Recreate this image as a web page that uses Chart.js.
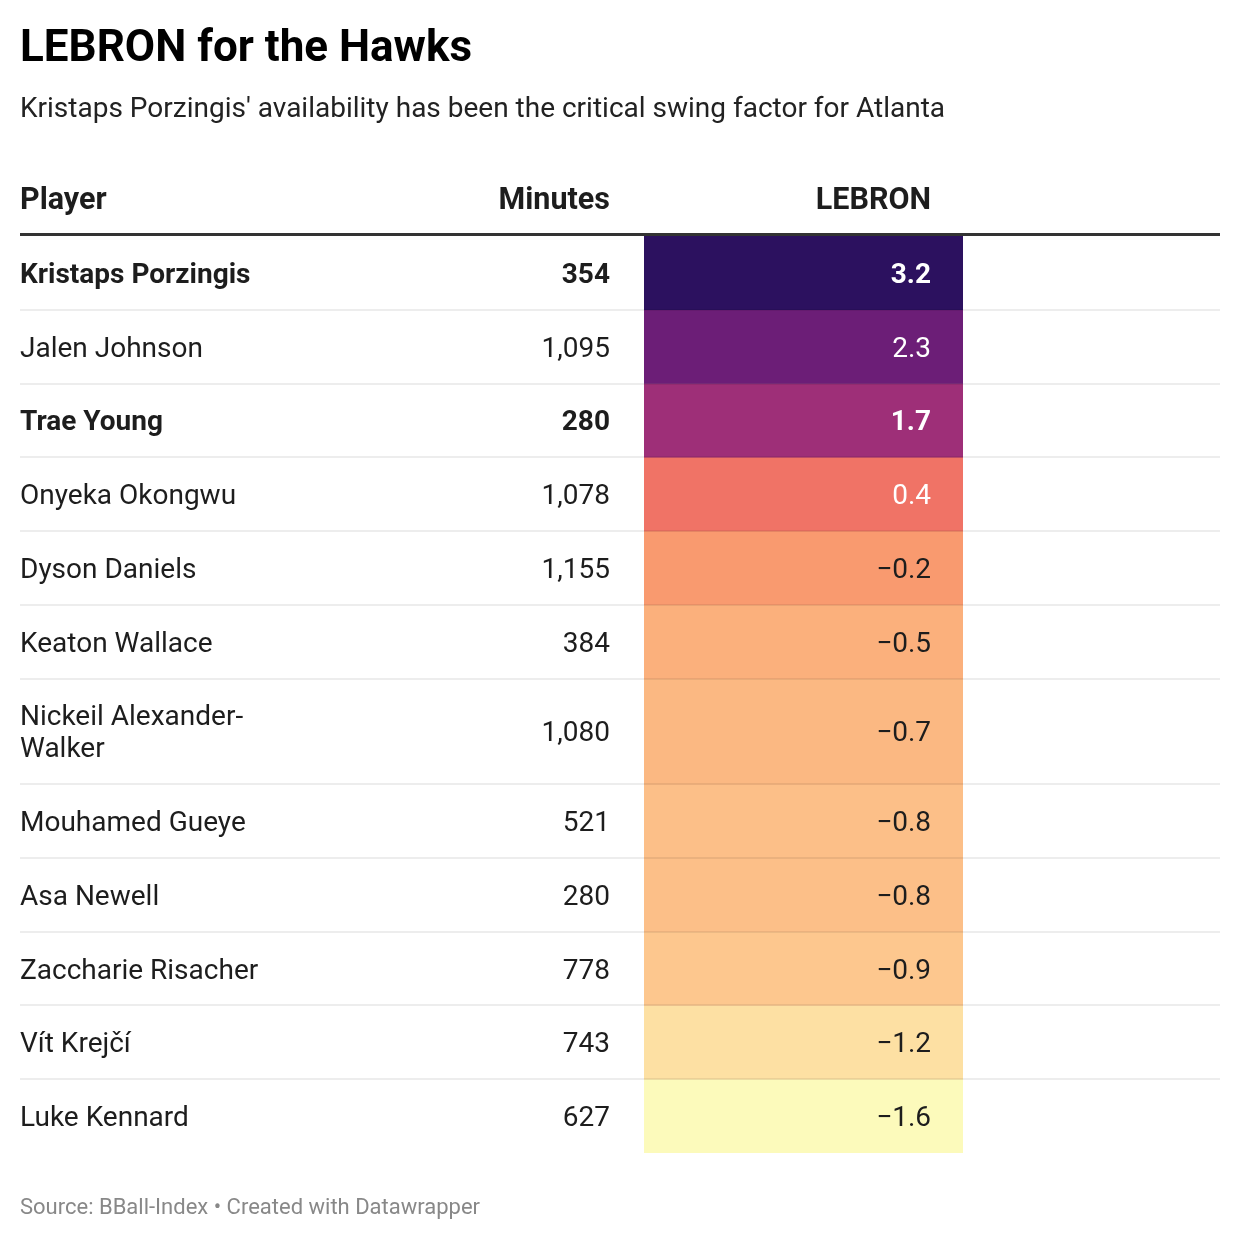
<!DOCTYPE html>
<html>
<head>
<meta charset="utf-8">
<script src="https://cdn.jsdelivr.net/npm/chart.js@4.4.1/dist/chart.umd.min.js"></script>
<style>
  html, body { margin: 0; padding: 0; background: #fff; }
  body { width: 1240px; height: 1240px; position: relative; overflow: hidden; font-family: Roboto, "Noto Sans", sans-serif; }
  #chart { position: absolute; left: 0; top: 0; }
  .txt { position: absolute; left: 20px; white-space: nowrap; line-height: 1; }
  #title { top: 24px; font-size: 44px; font-weight: 700; color: #000; }
  #subtitle { top: 94px; font-size: 28px; color: #222; }
  #source { top: 1196px; font-size: 22px; color: #888; }
</style>
</head>
<body>
<canvas id="chart" width="1240" height="1240"></canvas>
<div class="txt" id="title">LEBRON for the Hawks</div>
<div class="txt" id="subtitle">Kristaps Porzingis' availability has been the critical swing factor for Atlanta</div>
<div class="txt" id="source">Source: BBall-Index • Created with Datawrapper</div>
<script>
// table data
const columns = ["Player", "Minutes", "LEBRON"];
const players = [
    "Kristaps Porzingis", "Jalen Johnson", "Trae Young", "Onyeka Okongwu",
    "Dyson Daniels", "Keaton Wallace", "Nickeil Alexander-\nWalker", "Mouhamed Gueye",
    "Asa Newell", "Zaccharie Risacher", "Vít Krejčí", "Luke Kennard"
];
const minutes = [354, 1095, 280, 1078, 1155, 384, 1080, 521, 280, 778, 743, 627];
const lebron = [3.2, 2.3, 1.7, 0.4, -0.2, -0.5, -0.7, -0.8, -0.8, -0.9, -1.2, -1.6];
const highlighted = ["Kristaps Porzingis", "Trae Young"];

// cell colours (magma-like scale)
const cellColors = [
    "#2c115f", "#6c1e77", "#9e2f78", "#f07366", "#f99a6f", "#fbb07c",
    "#fbb882", "#fcbf88", "#fcbf88", "#fdc78e", "#fde0a3", "#fcfabb"
];

const ROW_PAD = 42, LINE_H = 32;
const lineCount = players.map(p => p.split("\n").length);
const rowHeights = lineCount.map(n => ROW_PAD + LINE_H * n);
const totalHeight = rowHeights.reduce((a, b) => a + b, 0);

const TEXT = "#1d1d1d";
const LEFT = 20, RIGHT = 1220, MIN_X = 610, VAL_X = 931;
const NUDGE = 3; // text sits a touch below the box middle

function isDark(hex) {
    const r = parseInt(hex.slice(1, 3), 16), g = parseInt(hex.slice(3, 5), 16), b = parseInt(hex.slice(5, 7), 16);
    return (0.299 * r + 0.587 * g + 0.114 * b) < 170;
}
function fmtVal(v) {
    return (v < 0 ? "\u2212" : "") + Math.abs(v).toFixed(1);
}

const tablePlugin = {
    id: "tableText",
    afterDatasetsDraw(chart) {
        const ctx = chart.ctx;
        const y = chart.scales.y;
        const top = y.getPixelForValue(0);
        ctx.save();

        // row separators
        let acc = 0;
        ctx.strokeStyle = "rgba(0,0,0,0.07)";
        ctx.lineWidth = 2;
        for (let i = 0; i < players.length - 1; i++) {
            acc += rowHeights[i];
            const py = Math.round(y.getPixelForValue(acc));
            ctx.beginPath();
            ctx.moveTo(LEFT, py);
            ctx.lineTo(RIGHT, py);
            ctx.stroke();
        }

        // header line
        ctx.strokeStyle = "#333";
        ctx.lineWidth = 3;
        ctx.beginPath();
        ctx.moveTo(LEFT, top - 1.5);
        ctx.lineTo(RIGHT, top - 1.5);
        ctx.stroke();

        // header
        ctx.fillStyle = TEXT;
        ctx.textBaseline = "middle";
        ctx.font = "700 30.5px Roboto";
        ctx.textAlign = "left";
        ctx.fillText(columns[0], LEFT, 198 + NUDGE);
        ctx.textAlign = "right";
        ctx.fillText(columns[1], MIN_X, 198 + NUDGE);
        ctx.fillText(columns[2], VAL_X, 198 + NUDGE);

        // rows
        acc = 0;
        players.forEach((name, i) => {
            const mid = y.getPixelForValue(acc + rowHeights[i] / 2) + NUDGE;
            acc += rowHeights[i];
            const bold = highlighted.includes(name.replace("\n", ""));
            ctx.font = (bold ? "700 " : "400 ") + "28px Roboto";
            ctx.fillStyle = TEXT;
            ctx.textAlign = "left";
            const lines = name.split("\n");
            lines.forEach((ln, k) => {
                ctx.fillText(ln, LEFT, mid + (k - (lines.length - 1) / 2) * LINE_H);
            });
            ctx.textAlign = "right";
            ctx.fillText(minutes[i].toLocaleString("en-US"), MIN_X, mid);
            ctx.fillStyle = isDark(cellColors[i]) ? "#fff" : TEXT;
            ctx.fillText(fmtVal(lebron[i]), VAL_X, mid);
        });
        ctx.restore();
    }
};

const datasets = players.map((p, i) => ({
    label: p.replace("\n", ""),
    data: [rowHeights[i]],
    backgroundColor: cellColors[i],
    borderWidth: 0,
    barPercentage: 1,
    categoryPercentage: 1
}));

new Chart(document.getElementById("chart"), {
    type: "bar",
    data: { labels: [columns[2]], datasets },
    options: {
        responsive: false,
        animation: false,
        devicePixelRatio: 1,
        layout: { padding: { left: 644, right: 277, top: 236, bottom: 87 } },
        scales: {
            x: { stacked: true, display: false },
            y: { stacked: true, display: false, reverse: true, min: 0, max: totalHeight }
        },
        plugins: { legend: { display: false }, tooltip: { enabled: false } }
    },
    plugins: [tablePlugin]
});
</script>
</body>
</html>
